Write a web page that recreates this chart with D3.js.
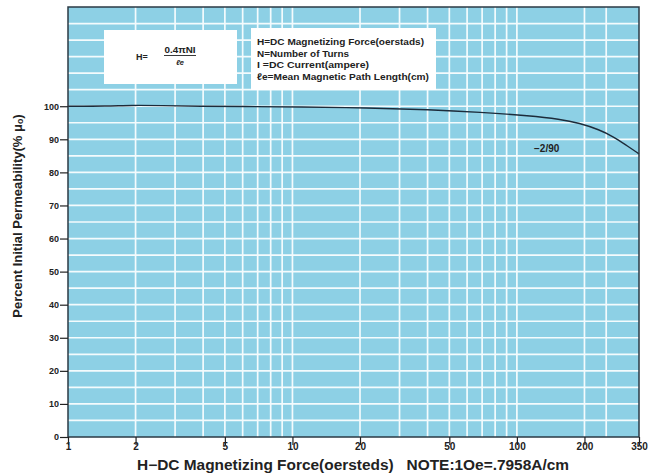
<!DOCTYPE html>
<html>
<head>
<meta charset="utf-8">
<script src="https://cdn.jsdelivr.net/npm/d3@7/dist/d3.min.js"></script>
<style>
  body { margin: 0; background: #fff; }
  svg text { font-family: "Liberation Sans", Arial, sans-serif; fill: #222; }
</style>
</head>
<body>
<div id="chart"></div>
<script>
// curve values
var hValues = [1, 1.5, 1.9, 2.6, 3.9, 6, 10.8, 21.5, 40.9, 68.5, 115, 155, 190, 233, 269, 303, 350];
var permValues = [100, 100, 100.3, 100.2, 100, 99.9, 99.8, 99.5, 99, 98.2, 97.1, 96.1, 94.9, 92.9, 90.8, 88.5, 85.6];

var xTicks = [1, 2, 5, 10, 20, 50, 100, 200, 350];
var xGrid = [2, 3, 4, 5, 6, 7, 8, 9, 10, 20, 30, 40, 50, 60, 70, 80, 90, 100, 200, 250];
var yTicks = [0, 10, 20, 30, 40, 50, 60, 70, 80, 90, 100];
var yGrid = d3.range(5, 130, 5);

var curveLabel = "\u22122/90";
var legendLines = [
  "H=DC Magnetizing Force(oerstads)",
  "N=Number of Turns",
  "I  =DC Current(ampere)",
  "\u2113e=Mean Magnetic Path Length(cm)"
];

var width = 650, height = 475;
var margin = {top: 7, right: 11, bottom: 38, left: 68};
var w = width - margin.left - margin.right;
var h = height - margin.top - margin.bottom;

var svg = d3.select("#chart").append("svg")
    .attr("width", width)
    .attr("height", height);

var g = svg.append("g")
    .attr("transform", "translate(" + margin.left + "," + margin.top + ")");

var x = d3.scaleLog().domain([1, 350]).range([0, w]);
var y = d3.scaleLinear().domain([0, 130]).range([h, 0]);

// background
g.append("rect")
    .attr("width", w)
    .attr("height", h)
    .attr("fill", "#8dd0e5");

// grid
g.selectAll(".vgrid").data(xGrid).enter().append("line")
    .attr("x1", function(d) { return x(d); })
    .attr("x2", function(d) { return x(d); })
    .attr("y1", 0).attr("y2", h)
    .attr("stroke", "#f4fbfd").attr("stroke-width", 1.7);

g.selectAll(".hgrid").data(yGrid).enter().append("line")
    .attr("y1", function(d) { return y(d); })
    .attr("y2", function(d) { return y(d); })
    .attr("x1", 0).attr("x2", w)
    .attr("stroke", "#f4fbfd").attr("stroke-width", 1.7);

// formula box
g.append("rect")
    .attr("x", 104 - margin.left).attr("y", 30 - margin.top)
    .attr("width", 133).attr("height", 54)
    .attr("fill", "#fff");

g.append("text")
    .attr("x", 136 - margin.left).attr("y", 60 - margin.top)
    .attr("font-size", 9).attr("font-weight", "bold")
    .text("H=");
g.append("text")
    .attr("x", 180 - margin.left).attr("y", 53 - margin.top)
    .attr("text-anchor", "middle")
    .attr("font-size", 9).attr("font-weight", "bold")
    .attr("textLength", 31).attr("lengthAdjust", "spacingAndGlyphs")
    .text("0.4\u03c0NI");
g.append("line")
    .attr("x1", 164 - margin.left).attr("x2", 196 - margin.left)
    .attr("y1", 55.5 - margin.top).attr("y2", 55.5 - margin.top)
    .attr("stroke", "#222").attr("stroke-width", 0.9);
g.append("text")
    .attr("x", 180 - margin.left).attr("y", 65 - margin.top)
    .attr("text-anchor", "middle")
    .attr("font-size", 7.5).attr("font-weight", "bold").attr("font-style", "italic")
    .text("\u2113e");

// legend box
g.append("rect")
    .attr("x", 251 - margin.left).attr("y", 28 - margin.top)
    .attr("width", 185).attr("height", 62)
    .attr("fill", "#fff");

g.selectAll(".leg").data(legendLines).enter().append("text")
    .attr("x", 257 - margin.left)
    .attr("y", function(d, i) { return 45 - margin.top + i * 11.6; })
    .attr("font-size", 9.5).attr("font-weight", "bold")
    .attr("textLength", function(d, i) { return [167, 92, 112, 172][i]; })
    .attr("lengthAdjust", "spacingAndGlyphs")
    .text(function(d) { return d; });

// curve
var line = d3.line()
    .x(function(d) { return x(d[0]); })
    .y(function(d) { return y(d[1]); })
    .curve(d3.curveBasis);

g.append("path")
    .datum(d3.zip(hValues, permValues))
    .attr("d", line)
    .attr("fill", "none")
    .attr("stroke", "#1c2b3a")
    .attr("stroke-width", 1.4);

g.append("text")
    .attr("x", 534 - margin.left).attr("y", 152 - margin.top)
    .attr("font-size", 10).attr("font-weight", "bold")
    .text(curveLabel);

// border
g.append("rect")
    .attr("width", w).attr("height", h)
    .attr("fill", "none")
    .attr("stroke", "#2b3a44").attr("stroke-width", 1.5);

// axes
var xAxis = d3.axisBottom(x)
    .tickValues(xTicks)
    .tickSize(8)
    .tickFormat(d3.format("d"));
var gx = g.append("g")
    .attr("transform", "translate(0," + h + ")")
    .call(xAxis);
gx.select(".domain").remove();
gx.selectAll("line").attr("stroke", "#222").attr("stroke-width", 1.2);
gx.selectAll("text")
    .attr("font-size", 10).attr("font-weight", "bold")
    .attr("font-family", "Liberation Sans, Arial, sans-serif")
    .attr("dy", "0.2em")
    .attr("fill", "#222");

var yAxis = d3.axisLeft(y)
    .tickValues(yTicks)
    .tickSize(8)
    .tickPadding(1);
var gy = g.append("g").call(yAxis);
gy.select(".domain").remove();
gy.selectAll("line").attr("stroke", "#222").attr("stroke-width", 1.2);
gy.selectAll("text")
    .attr("font-size", 9).attr("font-weight", "bold")
    .attr("font-family", "Liberation Sans, Arial, sans-serif")
    .attr("fill", "#222");

// axis titles
svg.append("text")
    .attr("x", 353).attr("y", 470)
    .attr("text-anchor", "middle")
    .attr("font-size", 14).attr("font-weight", "bold")
    .attr("textLength", 432).attr("lengthAdjust", "spacingAndGlyphs")
    .text("H\u2212DC Magnetizing Force(oersteds)\u00a0\u00a0\u00a0NOTE:1Oe=.7958A/cm");

svg.append("text")
    .attr("transform", "translate(22,216) rotate(-90)")
    .attr("text-anchor", "middle")
    .attr("font-size", 13).attr("font-weight", "bold")
    .text("Percent Initial Permeability(% \u03bc\u2092)");
</script>
</body>
</html>
